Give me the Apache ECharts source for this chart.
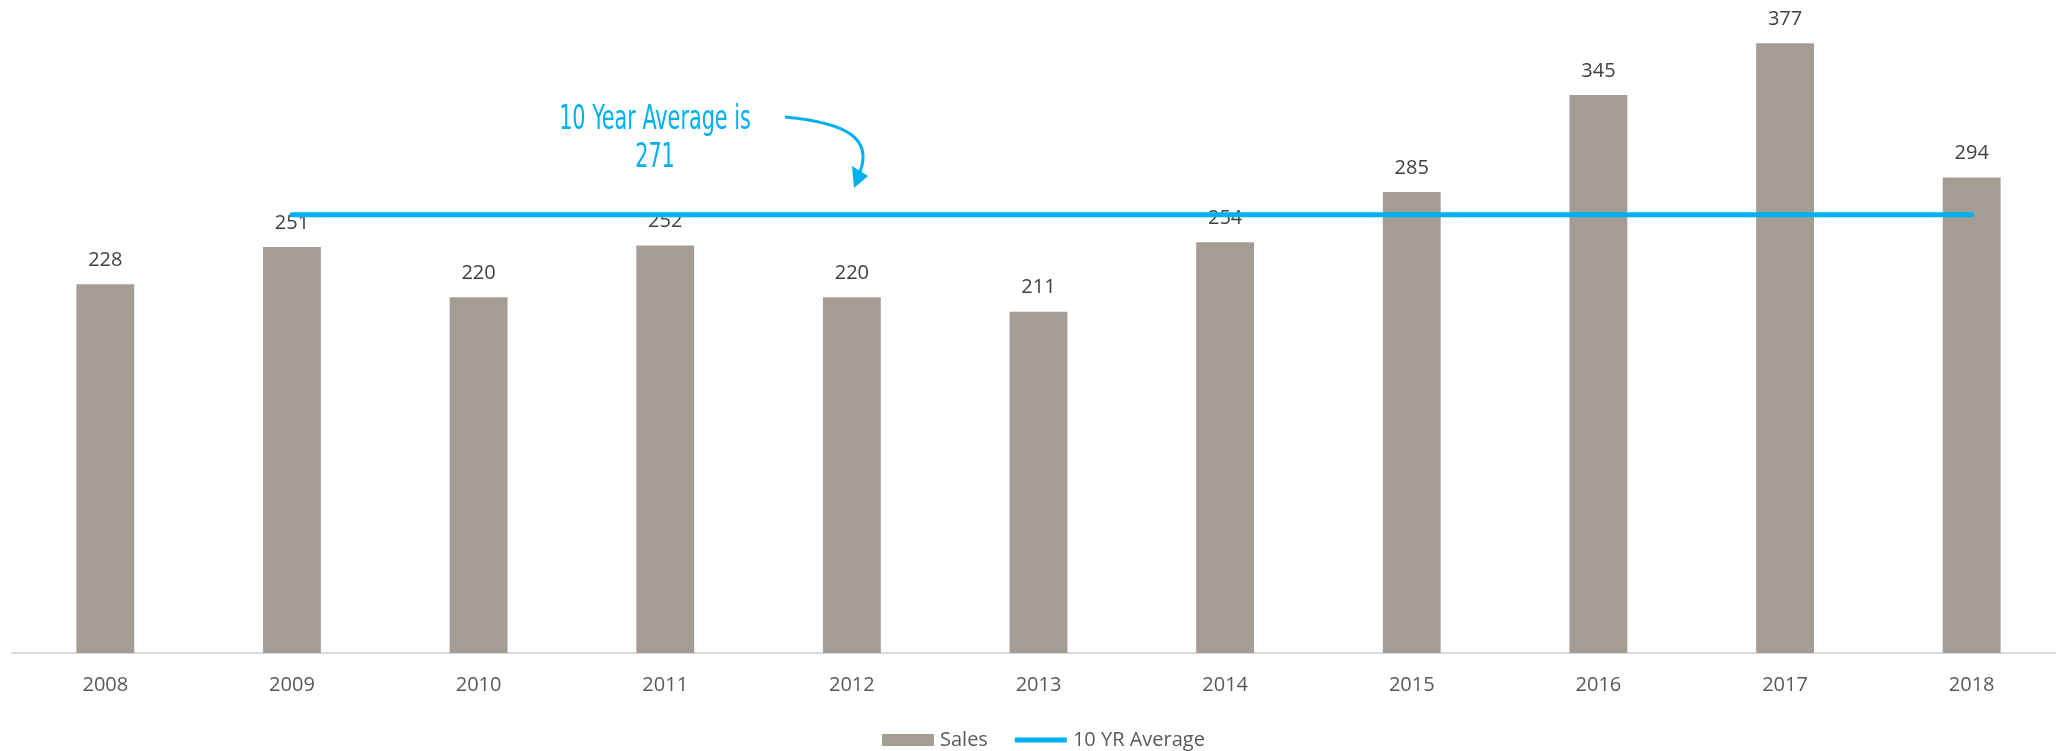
<!DOCTYPE html>
<html>
<head>
<meta charset="utf-8">
<script src="https://cdn.jsdelivr.net/npm/echarts@6/dist/echarts.min.js"></script>
<style>
  html, body { margin: 0; padding: 0; background: #fff; }
  #chart { width: 2056px; height: 751px; }
</style>
</head>
<body>
<div id="chart"></div>
<script>
// data
const years = ["2008", "2009", "2010", "2011", "2012", "2013", "2014", "2015", "2016", "2017", "2018"];
const sales = [228, 251, 220, 252, 220, 211, 254, 285, 345, 377, 294];
const tenYrAvg = [null, 271, 271, 271, 271, 271, 271, 271, 271, 271, 271];
const noteText = "10 Year Average is\n271";

const blue = "#00B0F0";
const font = "'Open Sans', 'Noto Sans', sans-serif";

const myChart = echarts.init(document.getElementById("chart"));
myChart.setOption({
  animation: false,
  grid: { left: 12, right: -9, top: 6, bottom: 98, containLabel: false, outerBoundsMode: "none" },
  legend: {
    left: 877,
    top: 725,
    itemGap: 27,
    itemWidth: 52,
    itemHeight: 12,
    textStyle: { fontFamily: font, fontSize: 20, color: "#595959", padding: [0, 0, 0, 1] },
    data: [
      { name: "Sales", icon: "rect" },
      { name: "10 YR Average", icon: "path://M0,0 H52 V5 H0 Z" },
    ],
  },
  xAxis: {
    type: "category",
    data: years,
    axisTick: { show: false }, //不显示刻度线
    axisLine: { lineStyle: { color: "#D9D9D9", width: 2 } },
    axisLabel: { fontFamily: font, fontSize: 20, color: "#595959", margin: 22 },
  },
  yAxis: {
    type: "value",
    min: 0,
    max: 400,
    show: false,
    splitLine: { show: false },
  },
  series: [
    {
      name: "Sales",
      type: "bar",
      data: sales,
      barWidth: "31%",
      itemStyle: { color: "#A59C94" },
      label: {
        show: true,
        position: "top",
        distance: 14,
        fontFamily: font,
        fontSize: 20,
        color: "#404040",
      },
    },
    {
      name: "10 YR Average",
      type: "line",
      data: tenYrAvg,
      symbol: "none",
      z: 3,
      lineStyle: { color: blue, width: 5, cap: "round" },
      itemStyle: { color: blue },
    },
  ],
  graphic: [
    {
      type: "text",
      x: 655,
      y: 101,
      scaleX: 0.7,
      style: {
        text: noteText,
        fill: blue,
        font: "33px 'Liberation Sans Narrow', 'DejaVu Sans Condensed', sans-serif",
        align: "center",
        lineHeight: 38,
      },
    },
    {
      type: "bezierCurve",
      shape: { x1: 785, y1: 117, cpx1: 850, cpy1: 123, cpx2: 872, cpy2: 140, x2: 860, y2: 172 },
      style: { stroke: blue, lineWidth: 3, fill: null },
    },
    {
      type: "polygon",
      shape: { points: [[852, 166], [868, 176], [854, 188]] },
      style: { fill: blue },
    },
  ],
});
</script>
</body>
</html>
